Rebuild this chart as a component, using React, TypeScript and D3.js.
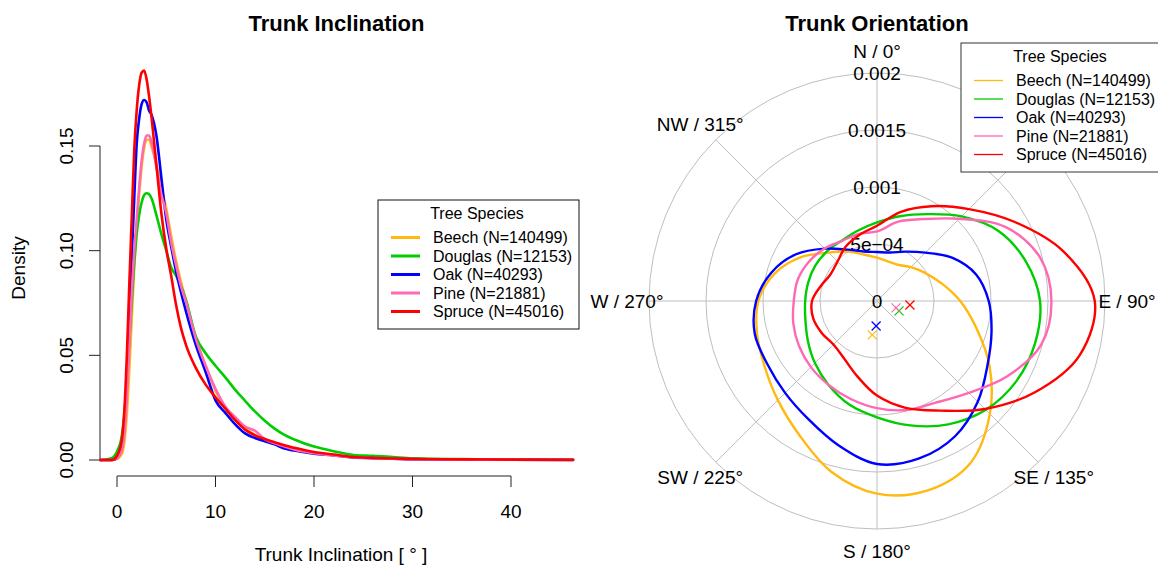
import React from "react";
import * as d3 from "d3";

// ---------- shared series metadata ----------
const speciesLabels = [
  "Beech (N=140499)",
  "Douglas (N=12153)",
  "Oak (N=40293)",
  "Pine (N=21881)",
  "Spruce (N=45016)",
];
const speciesColors = ["#FFB90F", "#00CD00", "#0000FF", "#FF69B4", "#FF0000"];

// ---------- trunk inclination densities (degrees -> density) ----------
const inclinationGrid = [
  -1.7, -0.5, 0, 0.5, 0.75, 1, 1.25, 1.5, 1.75, 2, 2.25, 2.5, 2.75, 3, 3.25,
  3.5, 4, 4.5, 5, 5.5, 6, 6.5, 7, 8, 9, 10, 11, 12, 13, 14, 15, 16, 17, 18, 20,
  22, 24, 26, 28, 30, 35, 40, 46.3,
];
const beechInclination = [
  0, 0, 0.0005, 0.003, 0.009, 0.022, 0.043, 0.068, 0.092, 0.111, 0.127, 0.14,
  0.149, 0.153, 0.153, 0.15, 0.141, 0.13, 0.12, 0.107, 0.095, 0.085, 0.076,
  0.058, 0.045, 0.033, 0.025, 0.0195, 0.015, 0.012, 0.0098, 0.008, 0.0065,
  0.0052, 0.0034, 0.0024, 0.0014, 0.0012, 0.0008, 0.0005, 0.0003, 0.0001, 0,
];
const douglasInclination = [
  0, 0.001, 0.004, 0.012, 0.022, 0.038, 0.057, 0.076, 0.094, 0.108, 0.117,
  0.123, 0.1265, 0.1274, 0.127, 0.125, 0.117, 0.108, 0.1, 0.092, 0.088, 0.083,
  0.0765, 0.059, 0.051, 0.045, 0.0395, 0.0335, 0.0283, 0.0232, 0.0188, 0.015,
  0.012, 0.0098, 0.0064, 0.0042, 0.0024, 0.002, 0.0014, 0.0008, 0.0004,
  0.0002, 0.0001,
];
const oakInclination = [
  0, 0, 0.001, 0.006, 0.016, 0.036, 0.066, 0.097, 0.125, 0.151, 0.163, 0.17,
  0.172, 0.171, 0.167, 0.165, 0.155, 0.135, 0.115, 0.102, 0.09, 0.08, 0.071,
  0.055, 0.042, 0.0285, 0.0225, 0.017, 0.0127, 0.0105, 0.009, 0.0075, 0.0055,
  0.0045, 0.003, 0.0022, 0.0012, 0.0009, 0.0006, 0.0004, 0.0002, 0.0001, 0,
];
const pineInclination = [
  0, 0, 0.001, 0.005, 0.013, 0.03, 0.055, 0.08, 0.1, 0.115, 0.13, 0.143, 0.151,
  0.155, 0.155, 0.152, 0.14, 0.127, 0.118, 0.104, 0.093, 0.083, 0.0755, 0.058,
  0.045, 0.034, 0.0255, 0.0205, 0.016, 0.014, 0.01, 0.008, 0.0065, 0.005,
  0.0032, 0.0022, 0.0013, 0.0009, 0.0006, 0.0004, 0.0002, 0.0001, 0,
];
const spruceInclination = [
  0, 0, 0.002, 0.01, 0.024, 0.05, 0.084, 0.116, 0.148, 0.167, 0.179, 0.185,
  0.186, 0.182, 0.174, 0.164, 0.141, 0.118, 0.101, 0.088, 0.074, 0.063, 0.055,
  0.044, 0.036, 0.03, 0.0245, 0.019, 0.0145, 0.0118, 0.01, 0.0085, 0.007,
  0.0058, 0.0038, 0.0026, 0.0014, 0.001, 0.0007, 0.0005, 0.0003, 0.0002,
  0.0001,
];
const inclinationSeries = [
  beechInclination,
  douglasInclination,
  oakInclination,
  pineInclination,
  spruceInclination,
];
const inclinationTicksX = [0, 10, 20, 30, 40];
const inclinationTicksY = [0, 0.05, 0.1, 0.15];
const inclinationTickLabelsY = ["0.00", "0.05", "0.10", "0.15"];

// ---------- trunk orientation densities (compass degrees -> density) ----------
const compassAngles = [
  0, 15, 30, 45, 60, 75, 90, 105, 120, 135, 150, 165, 180, 195, 210, 225, 240,
  255, 270, 285, 300, 315, 330, 345,
];
const beechOrientation = [
  0.00038, 0.00036, 0.000367, 0.00042, 0.00049, 0.00059, 0.00073, 0.0009,
  0.00114, 0.0014, 0.00164, 0.00172, 0.00169, 0.00155, 0.00136, 0.00123,
  0.00114, 0.00109, 0.00104, 0.00093, 0.00077, 0.0006, 0.0005, 0.00042,
];
const douglasOrientation = [
  0.00069, 0.00077, 0.00088, 0.00105, 0.00123, 0.00135, 0.00143, 0.001435,
  0.00141, 0.00135, 0.00125, 0.00113, 0.00102, 0.00094, 0.00085, 0.00077,
  0.0007, 0.00065, 0.00063, 0.000625, 0.000624, 0.000618, 0.000614, 0.00064,
];
const oakOrientation = [
  0.00043, 0.00044, 0.0005, 0.0006, 0.00076, 0.0009, 0.00098, 0.00104,
  0.00112, 0.00125, 0.00137, 0.00143, 0.00143, 0.00131, 0.0012, 0.00114,
  0.00111, 0.00111, 0.00106, 0.00096, 0.00082, 0.00065, 0.00052, 0.00045,
];
const pineOrientation = [
  0.00061, 0.00072, 0.00083, 0.00102, 0.0013, 0.00148, 0.00153, 0.00149,
  0.00132, 0.00114, 0.00103, 0.00099, 0.00094, 0.00089, 0.00085, 0.00082,
  0.00079, 0.00076, 0.00073, 0.00072, 0.00069, 0.00065, 0.00061, 0.00061,
];
const spruceOrientation = [
  0.00066, 0.00081, 0.00096, 0.00114, 0.00139, 0.00169, 0.00191, 0.00184,
  0.0016, 0.00134, 0.00111, 0.00097, 0.00083, 0.00068, 0.00058, 0.00054,
  0.00056, 0.00058, 0.00057, 0.00051, 0.00047, 0.00049, 0.00055, 0.0006,
];
const orientationSeries = [
  beechOrientation,
  douglasOrientation,
  oakOrientation,
  pineOrientation,
  spruceOrientation,
];
// mean direction vectors per species
const meanDirection = [188, 114, 182, 110, 97];
const meanLength = [0.0003, 0.000212, 0.000219, 0.000177, 0.000291];

const radialTicks = [0, 0.0005, 0.001, 0.0015, 0.002];
const radialTickLabels = ["0", "5e\u221204", "0.001", "0.0015", "0.002"];
const gridAngles = [0, 45, 90, 135, 180, 225, 270, 315];
// compass labels (the NE corner sits under the legend box)
const compassLabelAngles = [0, 90, 135, 180, 225, 270, 315];
const compassLabels = [
  "N / 0\u00b0",
  "E / 90\u00b0",
  "SE / 135\u00b0",
  "S / 180\u00b0",
  "SW / 225\u00b0",
  "W / 270\u00b0",
  "NW / 315\u00b0",
];

// ---------- layout ----------
const W = 1158;
const H = 565;
const FONT = "'Liberation Sans', Arial, Helvetica, sans-serif";
const BASE = 19;
const LEG = 16;

const left = { x0: 117, x1: 511, yBase: 460, yTop: 146, axisX: 100, axisY: 476 };
const polar = { cx: 877, cy: 301, rMax: 228, labelR: 250 };

function Legend({ x, y, lineWidth, stroke }: { x: number; y: number; lineWidth: number; stroke: string }) {
  const w = 201;
  const h = 129;
  return (
    <g>
      <rect x={x} y={y} width={w} height={h} fill="#fff" stroke={stroke} strokeWidth={1} />
      <text x={x + 99} y={y + 13} dy="0.35em" textAnchor="middle" fontSize={LEG} fontFamily={FONT}>
        Tree Species
      </text>
      {speciesLabels.map((lab, i) => {
        const cy = y + 37.5 + i * 18.5;
        return (
          <g key={lab}>
            <line x1={x + 13} x2={x + 42} y1={cy} y2={cy} stroke={speciesColors[i]} strokeWidth={lineWidth} />
            <text x={x + 55} y={cy} dy="0.35em" fontSize={LEG} fontFamily={FONT}>
              {lab}
            </text>
          </g>
        );
      })}
    </g>
  );
}

export default function App() {
  const xScale = d3.scaleLinear().domain([0, 40]).range([left.x0, left.x1]);
  const yScale = d3.scaleLinear().domain([0, 0.15]).range([left.yBase, left.yTop]);
  const densityLine = d3
    .line<number>()
    .x((_, i) => xScale(inclinationGrid[i]))
    .y((d) => yScale(d))
    .curve(d3.curveMonotoneX);

  const rScale = d3.scaleLinear().domain([0, 0.002]).range([0, polar.rMax]);
  const radialLine = d3
    .lineRadial<number>()
    .angle((_, i) => (compassAngles[i] * Math.PI) / 180)
    .radius((d) => rScale(d))
    .curve(d3.curveCatmullRomClosed.alpha(0.5));

  const polarXY = (deg: number, r: number) => {
    const a = (deg * Math.PI) / 180;
    return [polar.cx + r * Math.sin(a), polar.cy - r * Math.cos(a)];
  };

  const leftCenter = (left.axisX + 573) / 2;

  return (
    <div style={{ position: "fixed", left: 0, top: 0 }}>
      <svg width={W} height={H} style={{ display: "block", background: "#fff" }}>
        {/* ===== Trunk Inclination ===== */}
        <text x={leftCenter} y={31} textAnchor="middle" fontSize={22} fontWeight="bold" fontFamily={FONT}>
          Trunk Inclination
        </text>
        {/* y axis */}
        <line x1={left.axisX} x2={left.axisX} y1={yScale(0)} y2={yScale(0.15)} stroke="#222" strokeWidth={1} />
        {inclinationTicksY.map((t, i) => (
          <g key={t}>
            <line x1={left.axisX - 11} x2={left.axisX} y1={yScale(t)} y2={yScale(t)} stroke="#222" strokeWidth={1} />
            <text
              transform={`translate(73,${yScale(t)}) rotate(-90)`}
              textAnchor="middle"
              fontSize={BASE}
              fontFamily={FONT}
            >
              {inclinationTickLabelsY[i]}
            </text>
          </g>
        ))}
        {/* x axis */}
        <line x1={xScale(0)} x2={xScale(40)} y1={left.axisY} y2={left.axisY} stroke="#222" strokeWidth={1} />
        {inclinationTicksX.map((t) => (
          <g key={t}>
            <line x1={xScale(t)} x2={xScale(t)} y1={left.axisY} y2={left.axisY + 11} stroke="#222" strokeWidth={1} />
            <text x={xScale(t)} y={518} textAnchor="middle" fontSize={BASE} fontFamily={FONT}>
              {t}
            </text>
          </g>
        ))}
        <text transform={`translate(25,268) rotate(-90)`} textAnchor="middle" fontSize={BASE} fontFamily={FONT}>
          Density
        </text>
        <text x={341} y={561} textAnchor="middle" fontSize={BASE} fontFamily={FONT}>
          Trunk Inclination [ ° ]
        </text>
        {inclinationSeries.map((s, i) => (
          <path
            key={speciesLabels[i]}
            d={densityLine(s) ?? ""}
            fill="none"
            stroke={speciesColors[i]}
            strokeWidth={2.6}
            strokeLinejoin="round"
            strokeLinecap="round"
          />
        ))}
        <Legend x={378} y={200} lineWidth={3} stroke="#111" />

        {/* ===== Trunk Orientation ===== */}
        <text x={polar.cx} y={31} textAnchor="middle" fontSize={22} fontWeight="bold" fontFamily={FONT}>
          Trunk Orientation
        </text>
        {radialTicks.slice(1).map((t) => (
          <circle key={t} cx={polar.cx} cy={polar.cy} r={rScale(t)} fill="none" stroke="#BEBEBE" strokeWidth={1} />
        ))}
        {gridAngles.map((a) => {
          const [x, y] = polarXY(a, polar.rMax);
          return <line key={a} x1={polar.cx} y1={polar.cy} x2={x} y2={y} stroke="#BEBEBE" strokeWidth={1} />;
        })}
        {radialTicks.map((t, i) => (
          <text
            key={t}
            x={polar.cx}
            y={polar.cy - rScale(t)}
            dy="0.35em"
            textAnchor="middle"
            fontSize={BASE}
            fontFamily={FONT}
          >
            {radialTickLabels[i]}
          </text>
        ))}
        {compassLabelAngles.map((a, i) => {
          const [x, y] = polarXY(a, polar.labelR);
          return (
            <text key={a} x={x} y={y} dy="0.35em" textAnchor="middle" fontSize={BASE} fontFamily={FONT}>
              {compassLabels[i]}
            </text>
          );
        })}
        <g transform={`translate(${polar.cx},${polar.cy})`}>
          {orientationSeries.map((s, i) => (
            <path
              key={speciesLabels[i]}
              d={radialLine(s) ?? ""}
              fill="none"
              stroke={speciesColors[i]}
              strokeWidth={2.4}
              strokeLinejoin="round"
            />
          ))}
        </g>
        {meanDirection.map((a, i) => {
          const [x, y] = polarXY(a, rScale(meanLength[i]));
          const k = 4.5;
          return (
            <g key={speciesLabels[i]} stroke={speciesColors[i]} strokeWidth={1.2}>
              <line x1={x - k} y1={y - k} x2={x + k} y2={y + k} />
              <line x1={x - k} y1={y + k} x2={x + k} y2={y - k} />
            </g>
          );
        })}
        <Legend x={961} y={43} lineWidth={1.3} stroke="#333" />
      </svg>
    </div>
  );
}
